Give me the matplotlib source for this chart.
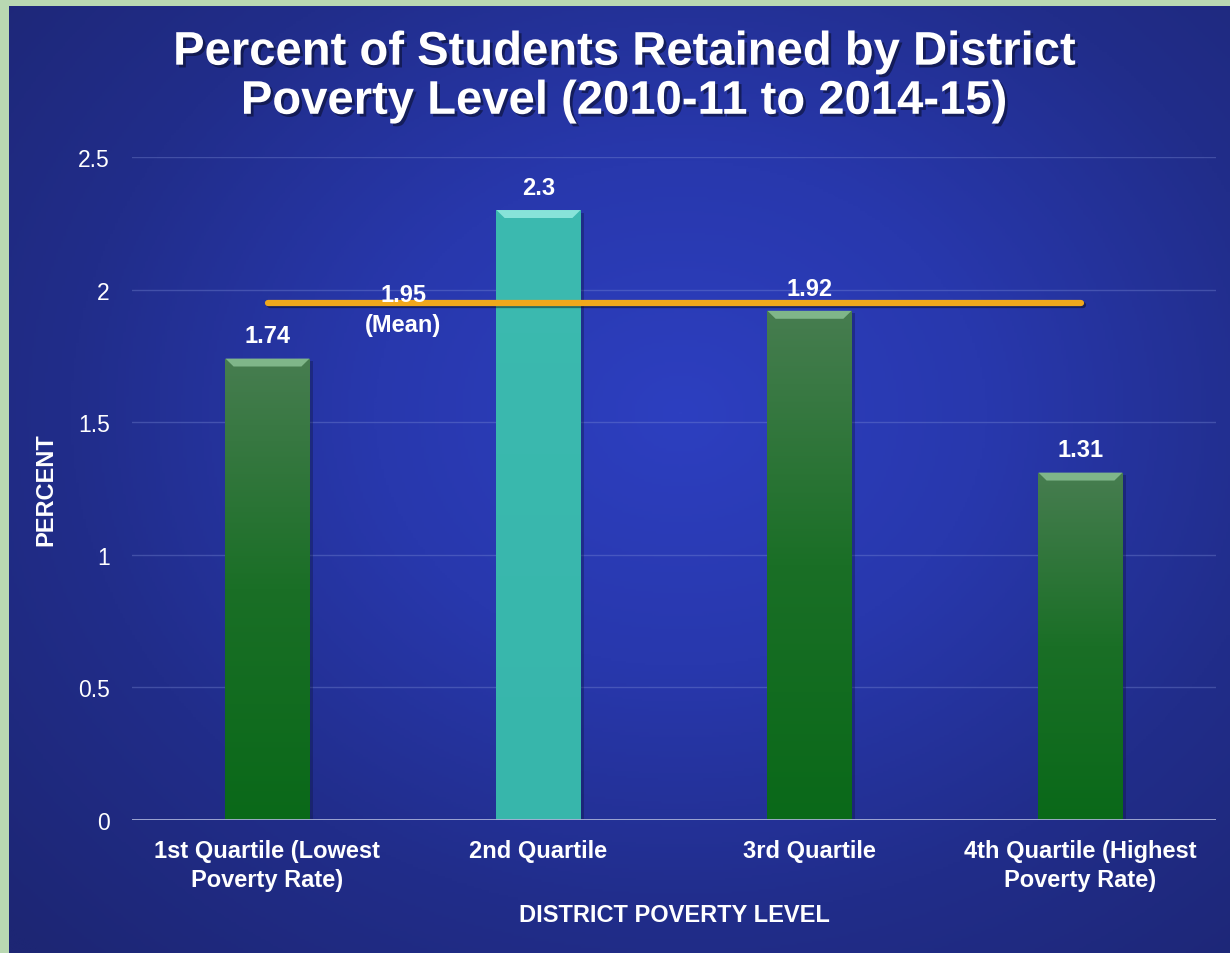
import numpy as np
import matplotlib.pyplot as plt
from matplotlib.colors import LinearSegmentedColormap
from matplotlib.patches import Polygon
import matplotlib.patheffects as pe

plt.rcParams['font.family'] = ['Liberation Sans', 'DejaVu Sans']

categories = ["1st Quartile (Lowest\nPoverty Rate)", "2nd Quartile",
              "3rd Quartile", "4th Quartile (Highest\nPoverty Rate)"]
values = [1.74, 2.3, 1.92, 1.31]
mean_value = 1.95
y_ticks = [0, 0.5, 1, 1.5, 2, 2.5]
y_tick_labels = ["0", "0.5", "1", "1.5", "2", "2.5"]

GREEN = LinearSegmentedColormap.from_list("green", ["#0a6919", "#1a6f26", "#477d50"])
TEAL = LinearSegmentedColormap.from_list("teal", ["#37b6ab", "#3cbab0"])
bar_maps = [GREEN, TEAL, GREEN, GREEN]
bevel_colors = ["#86bd90", "#90e8de", "#86bd90", "#86bd90"]

fig = plt.figure(figsize=(12.3, 9.54), dpi=100)
fig.patch.set_facecolor("#b9d8b2")

# blue radial backdrop
bg = fig.add_axes([9 / 1230, 0, 1 - 9 / 1230, 1 - 7 / 954])
bg.set_axis_off()
yy, xx = np.mgrid[0:1:400j, 0:1:500j]
r = np.sqrt(((xx - 0.55) / 0.75) ** 2 + ((yy - 0.57) / 0.8) ** 2)
blue = LinearSegmentedColormap.from_list("bg", ["#2d3fc0", "#2838ad", "#212d8a", "#1d2674"])
bg.imshow(np.clip(r, 0, 1), cmap=blue, aspect="auto", extent=[0, 1, 0, 1],
          origin="lower", vmin=0, vmax=1)

ax = fig.add_axes([132 / 1230, 133 / 954, (1216 - 132) / 1230, (821 - 158) / 954])
ax.patch.set_alpha(0)
ax.set_xlim(-0.5, 3.5)
ax.set_ylim(0, 2.5)

for t in y_ticks[1:]:
    ax.axhline(t, color="#8090d8", lw=1, alpha=0.35, zorder=1)
ax.axhline(0, color="#a8b0d8", lw=2, zorder=4)

x = np.arange(len(categories))
width = 0.31
bars = ax.bar(x, values, width=width, color="none", zorder=3)

grad = np.linspace(0, 1, 256).reshape(-1, 1)
for i, b in enumerate(bars):
    x0, y0 = b.get_x(), b.get_y()
    w, h = b.get_width(), b.get_height()
    # soft shadow to the right
    ax.add_patch(plt.Rectangle((x0 + 0.012, 0), w, h - 0.01, color="#0d1440",
                               alpha=0.35, zorder=2, lw=0))
    im = ax.imshow(grad, cmap=bar_maps[i], aspect="auto", origin="lower",
                   extent=[x0, x0 + w, y0, y0 + h], zorder=3)
    im.set_clip_path(b)
    # bevelled top edge
    dy = 0.03
    dx = 0.03
    ax.add_patch(Polygon([[x0, h], [x0 + w, h], [x0 + w - dx, h - dy], [x0 + dx, h - dy]],
                         closed=True, color=bevel_colors[i], alpha=0.9, lw=0, zorder=3.5))
    ax.annotate(f"{values[i]:g}", (x[i], h), xytext=(0, 8), textcoords="offset points",
                ha="center", va="bottom", color="white", fontsize=17, fontweight="bold",
                zorder=6)

ax.plot([x[0], x[-1]], [mean_value, mean_value], color="#f0a81c", lw=4.5,
        solid_capstyle="round", zorder=5,
        path_effects=[pe.SimpleLineShadow(offset=(1.5, -1.5), alpha=0.4), pe.Normal()])
ax.text(0.5, mean_value - 0.025, f"{mean_value:g}\n(Mean)", ha="center", va="center",
        color="white", fontsize=17, fontweight="bold", linespacing=1.4, zorder=6)

for s in ax.spines.values():
    s.set_visible(False)
ax.set_yticks(y_ticks)
ax.set_yticklabels(y_tick_labels)
ax.set_xticks(x)
ax.set_xticklabels(categories, fontweight="bold", linespacing=1.3)
ax.tick_params(axis="y", colors="white", labelsize=16.5, length=0, pad=16)
ax.tick_params(axis="x", colors="white", labelsize=17, length=0, pad=14)

ax.set_ylabel("PERCENT", color="white", fontsize=17, fontweight="bold")
ax.yaxis.set_label_coords(-0.069, 0.5)
ax.set_xlabel("DISTRICT POVERTY LEVEL", color="white", fontsize=17, fontweight="bold",
              labelpad=9)

fig.text(0.508, 0.918, "Percent of Students Retained by District\nPoverty Level (2010-11 to 2014-15)",
         ha="center", va="center", color="white", fontsize=34, fontweight="bold",
         linespacing=1.15,
         path_effects=[pe.withSimplePatchShadow(offset=(2, -2), shadow_rgbFace="#0a0f30", alpha=0.6)])

fig.savefig("out.png", dpi=100, facecolor=fig.get_facecolor())
